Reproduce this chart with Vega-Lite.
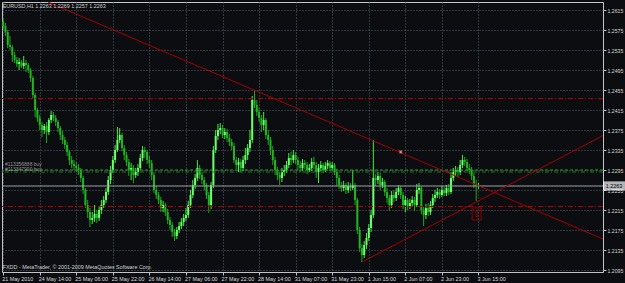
{
"$schema": "https://vega.github.io/schema/vega-lite/v6.json",
"width": 601, "height": 270,
"autosize": {"type": "none"},
"padding": {"left": 2, "top": 2, "right": 22, "bottom": 11},
"background": "#0b0d10",
"config": {
  "view": {"stroke": "#c2c5c8", "strokeWidth": 1},
  "font": "Liberation Sans",
  "axis": {"labelFont": "Liberation Sans", "labelColor": "#d6d6d6", "domain": false, "grid": true, "gridColor": "#56616b", "gridDash": [1, 2], "gridWidth": 1, "tickColor": "#c2c5c8", "tickSize": 3, "labelOverlap": false, "labelFlush": false, "labelBound": false}
},
"datasets": {
"bars": [
{"i":0,"o":1.2591,"h":1.2599,"l":1.2577,"c":1.2583},
{"i":1,"o":1.2583,"h":1.2589,"l":1.2563,"c":1.2571},
{"i":2,"o":1.2571,"h":1.2575,"l":1.2539,"c":1.2545},
{"i":3,"o":1.2545,"h":1.2563,"l":1.2535,"c":1.2541},
{"i":4,"o":1.2541,"h":1.2545,"l":1.2511,"c":1.2525},
{"i":5,"o":1.2525,"h":1.2531,"l":1.2509,"c":1.2515},
{"i":6,"o":1.2515,"h":1.2521,"l":1.2501,"c":1.2507},
{"i":7,"o":1.2507,"h":1.2519,"l":1.2495,"c":1.2511},
{"i":8,"o":1.2511,"h":1.2515,"l":1.2499,"c":1.2503},
{"i":9,"o":1.2503,"h":1.2523,"l":1.2497,"c":1.2509},
{"i":10,"o":1.2509,"h":1.2515,"l":1.2491,"c":1.2505},
{"i":11,"o":1.2505,"h":1.2509,"l":1.2489,"c":1.2495},
{"i":12,"o":1.2495,"h":1.2499,"l":1.2471,"c":1.2479},
{"i":13,"o":1.2479,"h":1.2483,"l":1.2439,"c":1.2445},
{"i":14,"o":1.2445,"h":1.2449,"l":1.2401,"c":1.2415},
{"i":15,"o":1.2415,"h":1.2419,"l":1.2391,"c":1.2399},
{"i":16,"o":1.2399,"h":1.2405,"l":1.2375,"c":1.2385},
{"i":17,"o":1.2385,"h":1.2391,"l":1.2361,"c":1.2375},
{"i":18,"o":1.2375,"h":1.2387,"l":1.2367,"c":1.2383},
{"i":19,"o":1.2383,"h":1.2391,"l":1.2349,"c":1.2371},
{"i":20,"o":1.2371,"h":1.2399,"l":1.2365,"c":1.2395},
{"i":21,"o":1.2395,"h":1.2413,"l":1.2389,"c":1.2405},
{"i":22,"o":1.2405,"h":1.2411,"l":1.2393,"c":1.2399},
{"i":23,"o":1.2399,"h":1.2405,"l":1.2383,"c":1.2391},
{"i":24,"o":1.2391,"h":1.2395,"l":1.2371,"c":1.2379},
{"i":25,"o":1.2379,"h":1.2383,"l":1.2355,"c":1.2365},
{"i":26,"o":1.2365,"h":1.2373,"l":1.2347,"c":1.2355},
{"i":27,"o":1.2355,"h":1.2361,"l":1.2337,"c":1.2345},
{"i":28,"o":1.2345,"h":1.2351,"l":1.2323,"c":1.2331},
{"i":29,"o":1.2331,"h":1.2335,"l":1.2305,"c":1.2315},
{"i":30,"o":1.2315,"h":1.2323,"l":1.2299,"c":1.2307},
{"i":31,"o":1.2307,"h":1.2315,"l":1.2295,"c":1.2303},
{"i":32,"o":1.2303,"h":1.2311,"l":1.2291,"c":1.2299},
{"i":33,"o":1.2299,"h":1.2307,"l":1.2285,"c":1.2295},
{"i":34,"o":1.2295,"h":1.2299,"l":1.2271,"c":1.2279},
{"i":35,"o":1.2279,"h":1.2283,"l":1.2247,"c":1.2255},
{"i":36,"o":1.2255,"h":1.2259,"l":1.2219,"c":1.2225},
{"i":37,"o":1.2225,"h":1.2235,"l":1.2199,"c":1.2211},
{"i":38,"o":1.2211,"h":1.2219,"l":1.2181,"c":1.2195},
{"i":39,"o":1.2195,"h":1.2211,"l":1.2187,"c":1.2199},
{"i":40,"o":1.2199,"h":1.2225,"l":1.2191,"c":1.2207},
{"i":41,"o":1.2207,"h":1.2215,"l":1.2189,"c":1.2199},
{"i":42,"o":1.2199,"h":1.2223,"l":1.2193,"c":1.2215},
{"i":43,"o":1.2215,"h":1.2235,"l":1.2207,"c":1.2225},
{"i":44,"o":1.2225,"h":1.2243,"l":1.2219,"c":1.2235},
{"i":45,"o":1.2235,"h":1.2259,"l":1.2229,"c":1.2251},
{"i":46,"o":1.2251,"h":1.2283,"l":1.2245,"c":1.2275},
{"i":47,"o":1.2275,"h":1.2303,"l":1.2267,"c":1.2295},
{"i":48,"o":1.2295,"h":1.2323,"l":1.2289,"c":1.2315},
{"i":49,"o":1.2315,"h":1.2345,"l":1.2309,"c":1.2335},
{"i":50,"o":1.2335,"h":1.2381,"l":1.2331,"c":1.2355},
{"i":51,"o":1.2355,"h":1.2379,"l":1.2349,"c":1.2365},
{"i":52,"o":1.2365,"h":1.2369,"l":1.2333,"c":1.2339},
{"i":53,"o":1.2339,"h":1.2345,"l":1.2315,"c":1.2325},
{"i":54,"o":1.2325,"h":1.2331,"l":1.2303,"c":1.2311},
{"i":55,"o":1.2311,"h":1.2317,"l":1.2283,"c":1.2295},
{"i":56,"o":1.2295,"h":1.2309,"l":1.2275,"c":1.2299},
{"i":57,"o":1.2299,"h":1.2305,"l":1.2269,"c":1.2285},
{"i":58,"o":1.2285,"h":1.2299,"l":1.2279,"c":1.2291},
{"i":59,"o":1.2291,"h":1.2307,"l":1.2283,"c":1.2299},
{"i":60,"o":1.2299,"h":1.2327,"l":1.2295,"c":1.2319},
{"i":61,"o":1.2319,"h":1.2343,"l":1.2313,"c":1.2335},
{"i":62,"o":1.2335,"h":1.2341,"l":1.2319,"c":1.2331},
{"i":63,"o":1.2331,"h":1.2335,"l":1.2307,"c":1.2315},
{"i":64,"o":1.2315,"h":1.2323,"l":1.2299,"c":1.2309},
{"i":65,"o":1.2309,"h":1.2315,"l":1.2275,"c":1.2285},
{"i":66,"o":1.2285,"h":1.2291,"l":1.2249,"c":1.2255},
{"i":67,"o":1.2255,"h":1.2263,"l":1.2237,"c":1.2245},
{"i":68,"o":1.2245,"h":1.2251,"l":1.2227,"c":1.2235},
{"i":69,"o":1.2235,"h":1.2241,"l":1.2211,"c":1.2219},
{"i":70,"o":1.2219,"h":1.2233,"l":1.2211,"c":1.2225},
{"i":71,"o":1.2225,"h":1.2229,"l":1.2203,"c":1.2211},
{"i":72,"o":1.2211,"h":1.2217,"l":1.2187,"c":1.2195},
{"i":73,"o":1.2195,"h":1.2201,"l":1.2175,"c":1.2185},
{"i":74,"o":1.2185,"h":1.2191,"l":1.2161,"c":1.2171},
{"i":75,"o":1.2171,"h":1.2177,"l":1.2153,"c":1.2163},
{"i":76,"o":1.2163,"h":1.2181,"l":1.2157,"c":1.2175},
{"i":77,"o":1.2175,"h":1.2191,"l":1.2169,"c":1.2183},
{"i":78,"o":1.2183,"h":1.2199,"l":1.2177,"c":1.2191},
{"i":79,"o":1.2191,"h":1.2207,"l":1.2183,"c":1.2199},
{"i":80,"o":1.2199,"h":1.2219,"l":1.2193,"c":1.2205},
{"i":81,"o":1.2205,"h":1.2233,"l":1.2199,"c":1.2225},
{"i":82,"o":1.2225,"h":1.2255,"l":1.2219,"c":1.2245},
{"i":83,"o":1.2245,"h":1.2275,"l":1.2239,"c":1.2265},
{"i":84,"o":1.2265,"h":1.2287,"l":1.2257,"c":1.2279},
{"i":85,"o":1.2279,"h":1.2315,"l":1.2273,"c":1.2299},
{"i":86,"o":1.2299,"h":1.2305,"l":1.2277,"c":1.2285},
{"i":87,"o":1.2285,"h":1.2291,"l":1.2267,"c":1.2275},
{"i":88,"o":1.2275,"h":1.2281,"l":1.2255,"c":1.2265},
{"i":89,"o":1.2265,"h":1.2269,"l":1.2237,"c":1.2245},
{"i":90,"o":1.2245,"h":1.2251,"l":1.2209,"c":1.2225},
{"i":91,"o":1.2225,"h":1.2271,"l":1.2217,"c":1.2265},
{"i":92,"o":1.2265,"h":1.2343,"l":1.2259,"c":1.2335},
{"i":93,"o":1.2335,"h":1.2375,"l":1.2329,"c":1.2363},
{"i":94,"o":1.2363,"h":1.2387,"l":1.2355,"c":1.2375},
{"i":95,"o":1.2375,"h":1.2389,"l":1.2367,"c":1.2379},
{"i":96,"o":1.2379,"h":1.2385,"l":1.2359,"c":1.2365},
{"i":97,"o":1.2365,"h":1.2379,"l":1.2357,"c":1.2371},
{"i":98,"o":1.2371,"h":1.2377,"l":1.2351,"c":1.2359},
{"i":99,"o":1.2359,"h":1.2367,"l":1.2343,"c":1.2351},
{"i":100,"o":1.2351,"h":1.2357,"l":1.2335,"c":1.2343},
{"i":101,"o":1.2343,"h":1.2349,"l":1.2309,"c":1.2315},
{"i":102,"o":1.2315,"h":1.2321,"l":1.2297,"c":1.2305},
{"i":103,"o":1.2305,"h":1.2319,"l":1.2291,"c":1.2311},
{"i":104,"o":1.2311,"h":1.2317,"l":1.2291,"c":1.2299},
{"i":105,"o":1.2299,"h":1.2323,"l":1.2293,"c":1.2315},
{"i":106,"o":1.2315,"h":1.2339,"l":1.2307,"c":1.2325},
{"i":107,"o":1.2325,"h":1.2347,"l":1.2315,"c":1.2339},
{"i":108,"o":1.2339,"h":1.2375,"l":1.2331,"c":1.2355},
{"i":109,"o":1.2355,"h":1.2443,"l":1.2349,"c":1.2435},
{"i":110,"o":1.2435,"h":1.2455,"l":1.2419,"c":1.2425},
{"i":111,"o":1.2425,"h":1.2435,"l":1.2403,"c":1.2411},
{"i":112,"o":1.2411,"h":1.2419,"l":1.2391,"c":1.2399},
{"i":113,"o":1.2399,"h":1.2405,"l":1.2371,"c":1.2385},
{"i":114,"o":1.2385,"h":1.2411,"l":1.2375,"c":1.2395},
{"i":115,"o":1.2395,"h":1.2399,"l":1.2357,"c":1.2365},
{"i":116,"o":1.2365,"h":1.2375,"l":1.2345,"c":1.2355},
{"i":117,"o":1.2355,"h":1.2361,"l":1.2325,"c":1.2335},
{"i":118,"o":1.2335,"h":1.2343,"l":1.2305,"c":1.2315},
{"i":119,"o":1.2315,"h":1.2321,"l":1.2285,"c":1.2295},
{"i":120,"o":1.2295,"h":1.2301,"l":1.2275,"c":1.2285},
{"i":121,"o":1.2285,"h":1.2291,"l":1.2265,"c":1.2279},
{"i":122,"o":1.2279,"h":1.2299,"l":1.2271,"c":1.2291},
{"i":123,"o":1.2291,"h":1.2305,"l":1.2283,"c":1.2295},
{"i":124,"o":1.2295,"h":1.2313,"l":1.2289,"c":1.2305},
{"i":125,"o":1.2305,"h":1.2329,"l":1.2299,"c":1.2319},
{"i":126,"o":1.2319,"h":1.2331,"l":1.2305,"c":1.2315},
{"i":127,"o":1.2315,"h":1.2335,"l":1.2309,"c":1.2325},
{"i":128,"o":1.2325,"h":1.2331,"l":1.2307,"c":1.2315},
{"i":129,"o":1.2315,"h":1.2321,"l":1.2295,"c":1.2305},
{"i":130,"o":1.2305,"h":1.2313,"l":1.2291,"c":1.2299},
{"i":131,"o":1.2299,"h":1.2317,"l":1.2293,"c":1.2309},
{"i":132,"o":1.2309,"h":1.2315,"l":1.2297,"c":1.2305},
{"i":133,"o":1.2305,"h":1.2311,"l":1.2287,"c":1.2295},
{"i":134,"o":1.2295,"h":1.2307,"l":1.2291,"c":1.2299},
{"i":135,"o":1.2299,"h":1.2319,"l":1.2293,"c":1.2311},
{"i":136,"o":1.2311,"h":1.2321,"l":1.2297,"c":1.2305},
{"i":137,"o":1.2305,"h":1.2311,"l":1.2279,"c":1.2291},
{"i":138,"o":1.2291,"h":1.2307,"l":1.2269,"c":1.2299},
{"i":139,"o":1.2299,"h":1.2313,"l":1.2293,"c":1.2305},
{"i":140,"o":1.2305,"h":1.2309,"l":1.2289,"c":1.2295},
{"i":141,"o":1.2295,"h":1.2311,"l":1.2291,"c":1.2303},
{"i":142,"o":1.2303,"h":1.2315,"l":1.2297,"c":1.2309},
{"i":143,"o":1.2309,"h":1.2313,"l":1.2293,"c":1.2299},
{"i":144,"o":1.2299,"h":1.2311,"l":1.2295,"c":1.2305},
{"i":145,"o":1.2305,"h":1.2309,"l":1.2285,"c":1.2291},
{"i":146,"o":1.2291,"h":1.2297,"l":1.2263,"c":1.2279},
{"i":147,"o":1.2279,"h":1.2285,"l":1.2257,"c":1.2265},
{"i":148,"o":1.2265,"h":1.2271,"l":1.2251,"c":1.2259},
{"i":149,"o":1.2259,"h":1.2273,"l":1.2253,"c":1.2265},
{"i":150,"o":1.2265,"h":1.2269,"l":1.2247,"c":1.2255},
{"i":151,"o":1.2255,"h":1.2271,"l":1.2249,"c":1.2263},
{"i":152,"o":1.2263,"h":1.2269,"l":1.2253,"c":1.2259},
{"i":153,"o":1.2259,"h":1.2295,"l":1.2255,"c":1.2265},
{"i":154,"o":1.2265,"h":1.2269,"l":1.2225,"c":1.2235},
{"i":155,"o":1.2235,"h":1.2239,"l":1.2167,"c":1.2175},
{"i":156,"o":1.2175,"h":1.2181,"l":1.2131,"c":1.2139},
{"i":157,"o":1.2139,"h":1.2147,"l":1.2111,"c":1.2125},
{"i":158,"o":1.2125,"h":1.2153,"l":1.2119,"c":1.2145},
{"i":159,"o":1.2145,"h":1.2169,"l":1.2137,"c":1.2159},
{"i":160,"o":1.2159,"h":1.2187,"l":1.2153,"c":1.2179},
{"i":161,"o":1.2179,"h":1.2215,"l":1.2171,"c":1.2205},
{"i":162,"o":1.2205,"h":1.2355,"l":1.2199,"c":1.2279},
{"i":163,"o":1.2279,"h":1.2287,"l":1.2263,"c":1.2275},
{"i":164,"o":1.2275,"h":1.2291,"l":1.2267,"c":1.2283},
{"i":165,"o":1.2283,"h":1.2289,"l":1.2255,"c":1.2265},
{"i":166,"o":1.2265,"h":1.2279,"l":1.2259,"c":1.2271},
{"i":167,"o":1.2271,"h":1.2275,"l":1.2243,"c":1.2251},
{"i":168,"o":1.2251,"h":1.2259,"l":1.2229,"c":1.2239},
{"i":169,"o":1.2239,"h":1.2245,"l":1.2213,"c":1.2225},
{"i":170,"o":1.2225,"h":1.2253,"l":1.2219,"c":1.2245},
{"i":171,"o":1.2245,"h":1.2255,"l":1.2231,"c":1.2239},
{"i":172,"o":1.2239,"h":1.2259,"l":1.2233,"c":1.2251},
{"i":173,"o":1.2251,"h":1.2265,"l":1.2245,"c":1.2259},
{"i":174,"o":1.2259,"h":1.2263,"l":1.2237,"c":1.2245},
{"i":175,"o":1.2245,"h":1.2251,"l":1.2217,"c":1.2225},
{"i":176,"o":1.2225,"h":1.2243,"l":1.2211,"c":1.2235},
{"i":177,"o":1.2235,"h":1.2239,"l":1.2215,"c":1.2223},
{"i":178,"o":1.2223,"h":1.2237,"l":1.2217,"c":1.2229},
{"i":179,"o":1.2229,"h":1.2243,"l":1.2221,"c":1.2235},
{"i":180,"o":1.2235,"h":1.2241,"l":1.2213,"c":1.2225},
{"i":181,"o":1.2225,"h":1.2267,"l":1.2221,"c":1.2255},
{"i":182,"o":1.2255,"h":1.2269,"l":1.2247,"c":1.2259},
{"i":183,"o":1.2259,"h":1.2263,"l":1.2207,"c":1.2215},
{"i":184,"o":1.2215,"h":1.2221,"l":1.2183,"c":1.2205},
{"i":185,"o":1.2205,"h":1.2227,"l":1.2197,"c":1.2219},
{"i":186,"o":1.2219,"h":1.2229,"l":1.2203,"c":1.2211},
{"i":187,"o":1.2211,"h":1.2233,"l":1.2205,"c":1.2225},
{"i":188,"o":1.2225,"h":1.2247,"l":1.2219,"c":1.2239},
{"i":189,"o":1.2239,"h":1.2255,"l":1.2231,"c":1.2245},
{"i":190,"o":1.2245,"h":1.2259,"l":1.2239,"c":1.2251},
{"i":191,"o":1.2251,"h":1.2257,"l":1.2237,"c":1.2245},
{"i":192,"o":1.2245,"h":1.2263,"l":1.2241,"c":1.2255},
{"i":193,"o":1.2255,"h":1.2261,"l":1.2243,"c":1.2249},
{"i":194,"o":1.2249,"h":1.2265,"l":1.2243,"c":1.2259},
{"i":195,"o":1.2259,"h":1.2267,"l":1.2245,"c":1.2251},
{"i":196,"o":1.2251,"h":1.2291,"l":1.2247,"c":1.2279},
{"i":197,"o":1.2279,"h":1.2299,"l":1.2273,"c":1.2291},
{"i":198,"o":1.2291,"h":1.2303,"l":1.2283,"c":1.2295},
{"i":199,"o":1.2295,"h":1.2301,"l":1.2281,"c":1.2291},
{"i":200,"o":1.2291,"h":1.2315,"l":1.2285,"c":1.2305},
{"i":201,"o":1.2305,"h":1.2325,"l":1.2299,"c":1.2315},
{"i":202,"o":1.2315,"h":1.2321,"l":1.2303,"c":1.2311},
{"i":203,"o":1.2311,"h":1.2317,"l":1.2293,"c":1.2299},
{"i":204,"o":1.2299,"h":1.2307,"l":1.2287,"c":1.2295},
{"i":205,"o":1.2295,"h":1.2301,"l":1.2275,"c":1.2283},
{"i":206,"o":1.2283,"h":1.2289,"l":1.2259,"c":1.2267},
{"i":207,"o":1.2267,"h":1.2275,"l":1.2233,"c":1.2263},
{"i":208,"o":1.2263,"h":1.2269,"l":1.2257,"c":1.2263}
],
"levels": [
{"p":1.2438,"kind":"stop"},
{"p":1.2222,"kind":"stop"},
{"p":1.2295,"kind":"order"},
{"p":1.2291,"kind":"order2"},
{"p":1.2263,"kind":"bid"}
],
"trend": [
{"line":"down","i":19.6,"p":1.2631},
{"line":"down","i":262.5,"p":1.2157},
{"line":"up","i":157.05,"p":1.2111},
{"line":"up","i":262.5,"p":1.2364}
]
},
"layer": [
{
"data": {"name": "bars"},
"mark": {"type": "rule", "strokeWidth": 1, "clip": true},
"encoding": {
  "x": {"field": "i", "type": "quantitative", "title": null, "scale": {"domain": [-0.5, 262.5], "nice": false, "zero": false},
    "axis": {"values": [0,16,32,48,64,80,96,112,128,144,160,176,192,208], "tickCount": 30, "labelExpr": "['21 May 2010','24 May 14:00','25 May 06:00','25 May 22:00','26 May 14:00','27 May 06:00','27 May 22:00','28 May 14:00','31 May 07:00','31 May 23:00','1 Jun 15:00','2 Jun 07:00','2 Jun 23:00','3 Jun 15:00'][round(datum.value/16)]", "labelAlign": "left", "labelBaseline": "top", "labelPadding": 1, "labelOffset": -1.5, "labelFontSize": 5.4, "labelOverlap": false}},
  "y": {"field": "l", "type": "quantitative", "title": null, "scale": {"domain": [1.2091, 1.2631], "nice": false, "zero": false},
    "axis": {"orient": "right", "values": [1.2095,1.2135,1.2175,1.2215,1.2255,1.2295,1.2335,1.2375,1.2415,1.2455,1.2495,1.2535,1.2575,1.2615], "tickCount": 30, "format": ".4f", "labelAlign": "left", "labelBaseline": "middle", "labelPadding": 1, "labelFontSize": 5.2, "labelOverlap": false}},
  "y2": {"field": "h"},
  "color": {"condition": {"test": "datum.c >= datum.o", "value": "#3cf03c"}, "value": "#1ca81c"}
}
},
{
"data": {"name": "bars"},
"mark": {"type": "rule", "strokeWidth": 2, "strokeCap": "butt", "clip": true},
"encoding": {
  "x": {"field": "i", "type": "quantitative", "title": null},
  "y": {"field": "o", "type": "quantitative", "title": null},
  "y2": {"field": "c"},
  "color": {"condition": {"test": "datum.c >= datum.o", "value": "#6cff6c"}, "value": "#22b422"}
}
},
{
"data": {"name": "levels"},
"mark": {"type": "rule", "strokeWidth": 1},
"encoding": {
  "y": {"field": "p", "type": "quantitative", "title": null},
  "color": {"field": "kind", "type": "nominal", "legend": null, "scale": {"domain": ["stop","order","order2","bid"], "range": ["#b40000","#2a9a2a","#1f7f1f","#9ea2a6"]}},
  "strokeDash": {"field": "kind", "type": "nominal", "legend": null, "scale": {"domain": ["stop","order","order2","bid"], "range": [[5,2,1,2],[3,2],[4,2,1,2],[1,0]]}}
}
},
{
"data": {"name": "trend"},
"mark": {"type": "line", "color": "#a80000", "strokeWidth": 1, "clip": true},
"encoding": {
  "x": {"field": "i", "type": "quantitative", "title": null},
  "y": {"field": "p", "type": "quantitative", "title": null},
  "detail": {"field": "line"}
}
},
{
"data": {"values": [{"i": 174, "p": 1.2331}]},
"mark": {"type": "point", "shape": "square", "size": 6, "filled": true, "color": "#ffe4e4", "stroke": "#ff5050", "strokeWidth": 0.5},
"encoding": {
  "x": {"field": "i", "type": "quantitative", "title": null},
  "y": {"field": "p", "type": "quantitative", "title": null}
}
},
{
"data": {"values": [{"i": 207.2, "p": 1.2207}]},
"mark": {"type": "point", "shape": "M-0.75,-1H0.75V1H-0.75Z", "size": 144, "filled": false, "stroke": "#c00000", "strokeWidth": 1},
"encoding": {
  "x": {"field": "i", "type": "quantitative", "title": null},
  "y": {"field": "p", "type": "quantitative", "title": null}
}
},
{
"data": {"values": [{"i": 207.2, "p": 1.2207, "t": "⇧"}]},
"mark": {"type": "text", "font": "DejaVu Sans", "fontSize": 9, "color": "#c00000", "align": "center", "baseline": "middle"},
"encoding": {
  "x": {"field": "i", "type": "quantitative", "title": null},
  "y": {"field": "p", "type": "quantitative", "title": null},
  "text": {"field": "t"}
}
},
{
"data": {"values": [{"i": 267.3, "p": 1.2263}]},
"mark": {"type": "point", "shape": "M-1,-0.42H1V0.42H-1Z", "size": 484, "filled": true, "color": "#ffffff", "strokeWidth": 0, "clip": false},
"encoding": {
  "x": {"field": "i", "type": "quantitative", "title": null},
  "y": {"field": "p", "type": "quantitative", "title": null}
}
},
{
"data": {"values": [{"i": 267.3, "p": 1.2263, "t": "1.2263"}]},
"mark": {"type": "text", "fontSize": 5.4, "color": "#000000", "align": "center", "baseline": "middle", "clip": false},
"encoding": {
  "x": {"field": "i", "type": "quantitative", "title": null},
  "y": {"field": "p", "type": "quantitative", "title": null},
  "text": {"field": "t"}
}
},
{
"data": {"values": [
  {"i": -0.2, "p": 1.2623, "t": "EURUSD,H1  1.2263 1.2269 1.2257 1.2263"},
  {"i": -0.2, "p": 1.2101, "t": "FXDD - MetaTrader, © 2001-2009 MetaQuotes Software Corp."}
]},
"mark": {"type": "text", "fontSize": 5.4, "color": "#d4d4d4", "align": "left", "baseline": "middle"},
"encoding": {
  "x": {"field": "i", "type": "quantitative", "title": null},
  "y": {"field": "p", "type": "quantitative", "title": null},
  "text": {"field": "t"}
}
},
{
"data": {"values": [
  {"i": 0.8, "p": 1.2307, "t": "#113356888 buy"},
  {"i": 0.8, "p": 1.2297, "t": "#113347990 buy"}
]},
"mark": {"type": "text", "fontSize": 5, "color": "#9a9a9a", "align": "left", "baseline": "middle"},
"encoding": {
  "x": {"field": "i", "type": "quantitative", "title": null},
  "y": {"field": "p", "type": "quantitative", "title": null},
  "text": {"field": "t"}
}
}
]
}
